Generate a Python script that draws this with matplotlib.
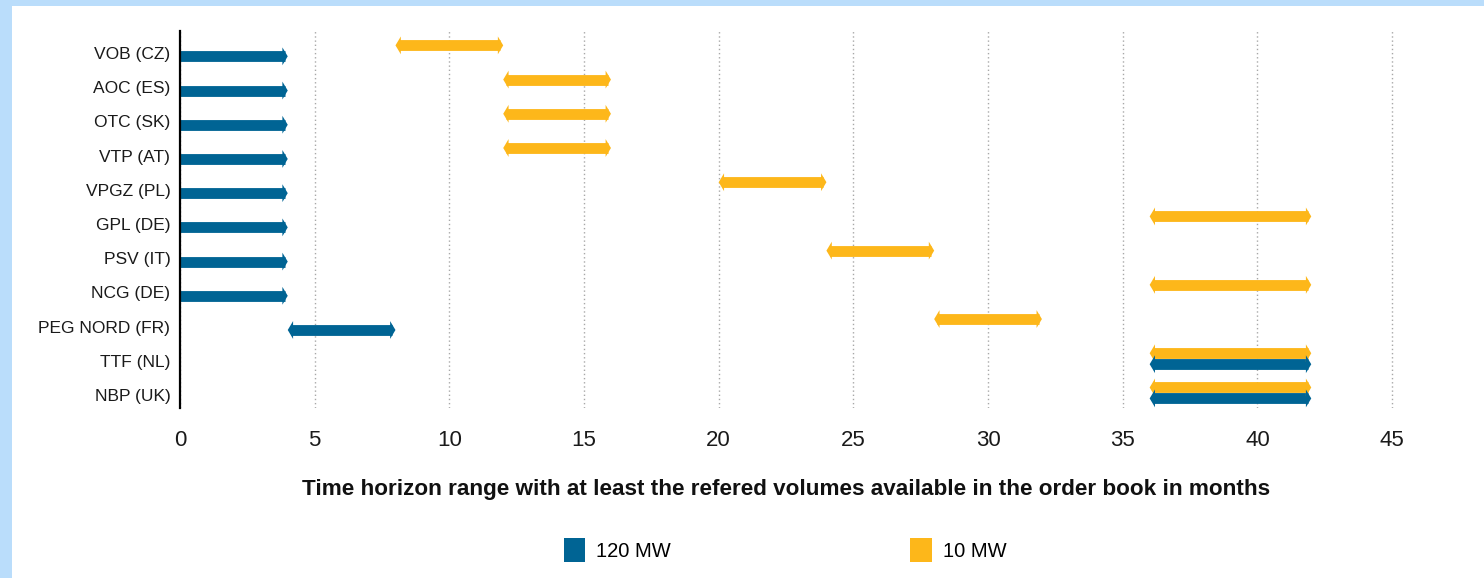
import matplotlib
matplotlib.use("Agg")
import matplotlib.pyplot as plt
from matplotlib.patches import Rectangle, Patch
from matplotlib.path import Path
from matplotlib.markers import MarkerStyle
import numpy as np

plt.rcParams['font.family'] = ['Liberation Sans', 'DejaVu Sans']

hubs = ["VOB (CZ)", "AOC (ES)", "OTC (SK)", "VTP (AT)", "VPGZ (PL)", "GPL (DE)",
        "PSV (IT)", "NCG (DE)", "PEG NORD (FR)", "TTF (NL)", "NBP (UK)"]
# 120 MW series
mw120_start = [0, 0, 0, 0, 0, 0, 0, 0, 4, 36, 36]
mw120_end = [4, 4, 4, 4, 4, 4, 4, 4, 8, 42, 42]
# 10 MW series
mw10_start = [8, 12, 12, 12, 20, 36, 24, 36, 28, 36, 36]
mw10_end = [12, 16, 16, 16, 24, 42, 28, 42, 32, 42, 42]
xticks = [0, 5, 10, 15, 20, 25, 30, 35, 40, 45]

BLUE = "#006494"
YELLOW = "#FDB71A"
BG = "#BADDFB"

W, H = 1484, 578
fig = plt.figure(figsize=(W / 100, H / 100), dpi=100, facecolor=BG)
fig.patches.append(Rectangle((12 / W, 0), 1, (H - 6) / H, transform=fig.transFigure,
                             facecolor="white", edgecolor="none", zorder=-10))

ax = fig.add_axes([180 / W, (H - 408) / H, (1419 - 180) / W, (408 - 31) / H])
ax.set_facecolor("none")
ax.set_xlim(0, 46)
ax.set_ylim(10.38, -0.64)

right_head = MarkerStyle(Path([(0, 0), (-0.6, 1), (-0.6, -1), (0, 0)],
                              [Path.MOVETO, Path.LINETO, Path.LINETO, Path.CLOSEPOLY]))
left_head = MarkerStyle(Path([(0, 0), (0.6, 1), (0.6, -1), (0, 0)],
                             [Path.MOVETO, Path.LINETO, Path.LINETO, Path.CLOSEPOLY]))
inset = 0.12


def draw_series(starts, ends, offset, color):
    ys = np.arange(len(hubs)) + offset
    s = np.array(starts, dtype=float)
    e = np.array(ends, dtype=float)
    lc = ax.hlines(ys, np.where(s > 0, s + inset, s), e - inset, colors=color, lw=7.8, zorder=3)
    lc.set_capstyle("butt")
    ax.scatter(e, ys, marker=right_head, s=165, color=color, edgecolors="none", zorder=4)
    m = s > 0
    ax.scatter(s[m], ys[m], marker=left_head, s=165, color=color, edgecolors="none", zorder=4)


draw_series(mw10_start, mw10_end, -0.22, YELLOW)
draw_series(mw120_start, mw120_end, 0.10, BLUE)

ax.set_yticks(np.arange(len(hubs)))
ax.set_yticklabels(hubs, fontsize=12.5, color="#1a1a1a")
ax.set_xticks(xticks)
ax.set_xticklabels([str(t) for t in xticks], fontsize=16, color="#1a1a1a")
ax.tick_params(axis="both", length=0)
ax.tick_params(axis="y", pad=7)
ax.tick_params(axis="x", pad=16)

for sp in ["top", "right", "bottom"]:
    ax.spines[sp].set_visible(False)
ax.spines["left"].set_linewidth(1.6)
ax.spines["left"].set_color("black")
ax.spines["left"].set_zorder(5)

ax.xaxis.grid(True, linestyle=(0, (1, 2)), color="#a8a8a8", lw=1.0, zorder=0)
ax.set_axisbelow(True)

ax.set_xlabel("Time horizon range with at least the refered volumes available in the order book in months",
              fontsize=16.2, fontweight="bold", color="#111111", va="center")
ax.xaxis.set_label_coords((786 - 180) / (1419 - 180), -(490 - 408) / (408 - 31))

handles = [Patch(facecolor=BLUE, edgecolor="none", label="120 MW"),
           Patch(facecolor=YELLOW, edgecolor="none", label="10 MW")]
fig.legend(handles=handles, loc="center", bbox_to_anchor=(785 / W, 1 - 550 / H),
           ncol=2, frameon=False, fontsize=14.5, handlelength=1.05, handleheight=1.4,
           handletextpad=0.55, columnspacing=11.9)

fig.savefig("out.png", dpi=100)
